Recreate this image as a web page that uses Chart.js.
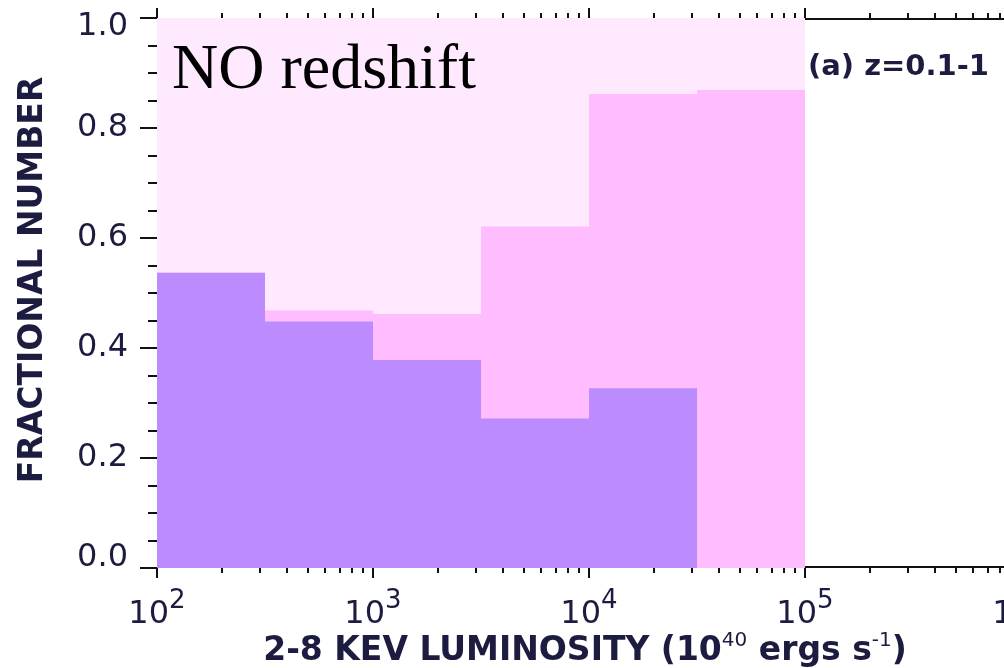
<!DOCTYPE html>
<html>
<head>
<meta charset="utf-8">
<script src="https://cdn.jsdelivr.net/npm/chart.js@4/dist/chart.umd.min.js"></script>
<style>
    body { margin: 0; background: #ffffff; }
    #wrap { width: 1004px; height: 668px; overflow: hidden; position: relative; }
</style>
</head>
<body>
<div id="wrap"><canvas id="fracChart" width="1060" height="668"></canvas></div>
<script>
// bin edges as log10 of luminosity (10^40 erg/s)
const binEdgeExponents = [2, 2.5, 3, 3.5, 4, 4.5, 5];
// fractions per bin (back to front)
const allFraction = [1.0, 1.0, 1.0, 1.0, 1.0, 1.0];
const pinkFraction = [0.537, 0.468, 0.462, 0.621, 0.862, 0.869];
const purpleFraction = [0.537, 0.448, 0.378, 0.272, 0.327];
// tick labels
const yTickLabels = ['0.0', '0.2', '0.4', '0.6', '0.8', '1.0'];
const xTickExponents = ['2', '3', '4', '5', '6'];

const textColor = '#1c1c40';
const fontFamily = "'DejaVu Sans', 'Liberation Sans', sans-serif";

document.addEventListener('DOMContentLoaded', function () {

    // turn bin values into step points: one point per left edge plus a closing point
    function toSteps(values) {
        const pts = values.map((v, i) => ({ x: Math.pow(10, binEdgeExponents[i]), y: v }));
        pts.push({ x: Math.pow(10, binEdgeExponents[values.length]), y: values[values.length - 1] });
        return pts;
    }

    function isDecade(v) {
        const e = Math.log10(v);
        return Math.abs(e - Math.round(e)) < 1e-9;
    }

    function seg(ctx, x1, y1, x2, y2) {
        ctx.beginPath();
        ctx.moveTo(x1, y1);
        ctx.lineTo(x2, y2);
        ctx.stroke();
    }

    // axis lines go under the fills (the histogram hides them, like the original)
    // tick marks, tick labels, axis titles and annotations go on top
    const axisDecor = {
        id: 'axisDecor',
        beforeDatasetsDraw(chart) {
            const ctx = chart.ctx;
            const a = chart.chartArea;
            ctx.save();
            ctx.strokeStyle = '#111111';
            ctx.lineWidth = 2;
            seg(ctx, a.left, a.top + 1, a.right, a.top + 1);
            seg(ctx, a.left, a.bottom - 1, a.right, a.bottom - 1);
            seg(ctx, a.left + 1, a.top, a.left + 1, a.bottom);
            ctx.restore();
        },
        afterDraw(chart) {
            const ctx = chart.ctx;
            const area = chart.chartArea;
            const xs = chart.scales.x;
            const ys = chart.scales.y;
            ctx.save();
            ctx.strokeStyle = '#111111';
            ctx.lineWidth = 2;

            // x ticks, bottom and top
            xs.ticks.forEach(t => {
                const px = Math.round(xs.getPixelForValue(t.value));
                const len = isDecade(t.value) ? 10 : 5;
                seg(ctx, px, area.bottom, px, area.bottom + len);
                seg(ctx, px, area.top, px, area.top - len);
            });

            // y ticks
            ys.ticks.forEach(t => {
                const py = Math.round(ys.getPixelForValue(t.value));
                const major = Math.abs(t.value / 0.2 - Math.round(t.value / 0.2)) < 1e-6;
                seg(ctx, area.left - (major ? 17 : 9), py, area.left, py);
            });

            // y tick labels
            ctx.fillStyle = textColor;
            ctx.font = '32px ' + fontFamily;
            ctx.textAlign = 'right';
            ctx.textBaseline = 'middle';
            yTickLabels.forEach(lbl => {
                const py = ys.getPixelForValue(parseFloat(lbl));
                ctx.fillText(lbl, area.left - 29, Math.min(Math.max(py, 27), 558));
            });

            // x tick labels 10^n
            ctx.textAlign = 'left';
            ctx.textBaseline = 'alphabetic';
            xTickExponents.forEach(ex => {
                const px = xs.getPixelForValue(Math.pow(10, parseInt(ex)));
                ctx.font = '32px ' + fontFamily;
                const wBase = ctx.measureText('10').width;
                ctx.font = '26px ' + fontFamily;
                const wExp = ctx.measureText(ex).width;
                const x0 = px - (wBase + wExp) / 2;
                ctx.font = '32px ' + fontFamily;
                ctx.fillText('10', x0, area.bottom + 55);
                ctx.font = '26px ' + fontFamily;
                ctx.fillText(ex, x0 + wBase, area.bottom + 40);
            });

            // x axis title with superscripts
            const parts = [
                { t: '2-8 KEV LUMINOSITY (10', sup: false },
                { t: '40', sup: true },
                { t: ' ergs s', sup: false },
                { t: '-1', sup: true },
                { t: ')', sup: false }
            ];
            const bigFont = 'bold 33px ' + fontFamily;
            const supFont = '20px ' + fontFamily;
            let total = 0;
            parts.forEach(p => {
                ctx.font = p.sup ? supFont : bigFont;
                p.w = ctx.measureText(p.t).width;
                total += p.w;
            });
            let cx = 585 - total / 2;
            parts.forEach(p => {
                ctx.font = p.sup ? supFont : bigFont;
                ctx.fillText(p.t, cx, p.sup ? 646 : 660);
                cx += p.w;
            });

            // y axis title
            ctx.save();
            ctx.translate(42, 280);
            ctx.rotate(-Math.PI / 2);
            ctx.textAlign = 'center';
            ctx.font = bigFont;
            ctx.fillText('FRACTIONAL NUMBER', 0, 0);
            ctx.restore();

            // panel label
            ctx.font = 'bold 29px ' + fontFamily;
            ctx.fillText('(a) z=0.1-1', 808, 75);

            // big annotation
            ctx.fillStyle = '#000000';
            ctx.font = "64px 'Liberation Serif', 'Times New Roman', serif";
            ctx.fillText('NO redshift', 172, 88);

            ctx.restore();
        }
    };

    const ctx = document.getElementById('fracChart').getContext('2d');
    const stepStyle = { stepped: 'before', fill: 'origin', borderWidth: 0, pointRadius: 0, pointHoverRadius: 0 };

    new Chart(ctx, {
        type: 'line',
        data: {
            datasets: [
                Object.assign({ label: 'purple', data: toSteps(purpleFraction), backgroundColor: '#bc8cff', borderColor: '#bc8cff' }, stepStyle),
                Object.assign({ label: 'pink', data: toSteps(pinkFraction), backgroundColor: '#ffbcff', borderColor: '#ffbcff' }, stepStyle),
                Object.assign({ label: 'all', data: toSteps(allFraction), backgroundColor: '#fee9fe', borderColor: '#fee9fe' }, stepStyle)
            ]
        },
        options: {
            responsive: false,
            animation: false,
            layout: { padding: { left: 157, top: 18, right: 39, bottom: 100 } },
            plugins: { legend: { display: false }, tooltip: { enabled: false } },
            scales: {
                x: {
                    type: 'logarithmic',
                    position: 'bottom',
                    min: 100,
                    max: 1e6,
                    afterBuildTicks: function (scale) {
                        const t = [];
                        for (let e = 2; e < 6; e++) {
                            for (let m = 1; m < 10; m++) t.push({ value: m * Math.pow(10, e) });
                        }
                        t.push({ value: 1e6 });
                        scale.ticks = t;
                    },
                    ticks: { display: false },
                    grid: { drawOnChartArea: false, drawTicks: false },
                    border: { display: false }
                },
                y: {
                    min: 0,
                    max: 1,
                    ticks: { display: false, stepSize: 0.05 },
                    grid: { drawOnChartArea: false, drawTicks: false },
                    border: { display: false }
                }
            }
        },
        plugins: [axisDecor]
    });
});
</script>
</body>
</html>
